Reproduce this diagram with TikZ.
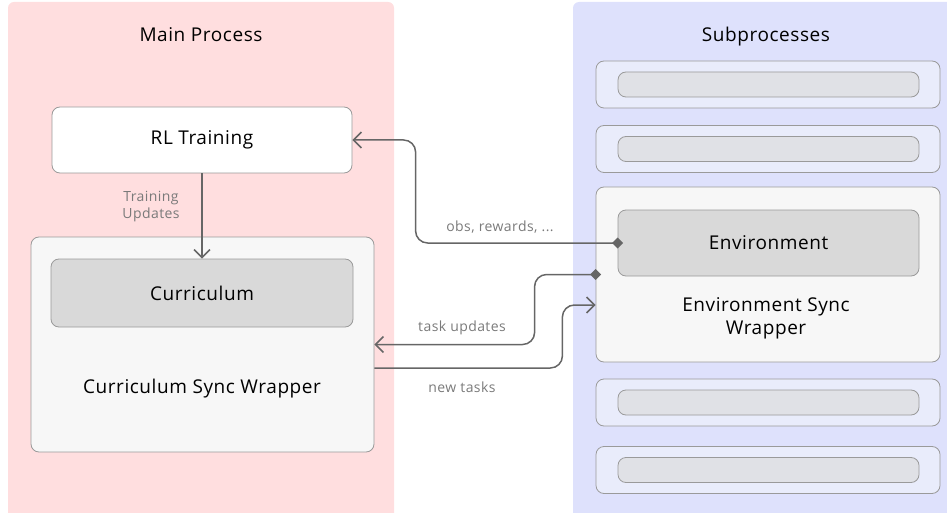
\documentclass[tikz,border=0pt]{standalone}
\usepackage{fontspec}
\setmainfont{Open Sans}[LetterSpace=3]
\usetikzlibrary{arrows.meta,calc}

\definecolor{mainbg}{HTML}{FFDEDF}
\definecolor{subbg}{HTML}{DEE1FC}
\definecolor{slotbg}{HTML}{E9ECFB}
\definecolor{slotin}{HTML}{E0E1E6}
\definecolor{wrapbg}{HTML}{F7F7F7}
\definecolor{corebg}{HTML}{D9D9D9}
\definecolor{edge}{HTML}{9A9A9A}
\definecolor{wire}{HTML}{666666}
\definecolor{note}{HTML}{7A7A7A}

\begin{document}
\begin{tikzpicture}[x=1pt,y=-1pt,
  panel/.style={fill=#1,draw=none,rounded corners=6pt},
  box/.style={draw=edge,line width=0.8pt,rounded corners=8pt,fill=#1,
    minimum width=300pt,font=\fontsize{19}{23}\selectfont},
  slot/.style={draw=edge,line width=0.8pt,rounded corners=8pt,fill=slotbg,
    minimum width=344pt,minimum height=47pt},
  slotbar/.style={draw=edge,line width=0.8pt,rounded corners=8pt,fill=slotin,
    minimum width=301pt,minimum height=25pt},
  title/.style={font=\fontsize{19}{23}\selectfont},
  tag/.style={font=\fontsize{14}{17}\selectfont,text=note},
  wire/.style={draw=wire,line width=1.5pt,rounded corners=12pt,
    -{Straight Barb[length=8pt,width=16pt]}},
  wirefrom/.style={wire,{Diamond[length=11pt,width=11pt]}-{Straight Barb[length=8pt,width=16pt]},
    shorten <=-5.5pt}]
  \useasboundingbox (0,0) rectangle (947,513);

  % the two process areas
  \draw[panel=mainbg] (8,2) rectangle (394,520);
  \draw[panel=subbg] (573,2) rectangle (960,520);
  \node[title,anchor=base] (maintitle) at (201,42) {Main Process};
  \node[title,anchor=base] (subtitle) at (766,42) {Subprocesses};

  % main process
  \node[box=white,minimum height=66pt] (rl) at (202,140) {RL Training};
  \node[box=wrapbg,minimum width=343pt,minimum height=215pt] (cswrap) at (202.5,344.5) {};
  \node[box=corebg,minimum width=302pt,minimum height=68pt] (cur) at (202,293) {Curriculum};
  \node[title] (cswraptext) at (202,389) {Curriculum Sync Wrapper};
  \draw[wire] (rl.south) -- (cur.north);
  \node[tag,align=center] (trainupd) at (151,207) {Training\\Updates};

  % subprocesses
  \foreach \y/\n in {84.5/1,149/2,402.5/4,470/5} {
    \node[slot] (slot\n) at (768,\y) {};
    \node[slotbar] (bar\n) at (768.5,\y) {};
  }
  \node[box=wrapbg,minimum width=344pt,minimum height=175pt] (envwrap) at (768,274.5) {};
  \node[box=corebg,minimum width=301pt,minimum height=66pt] (env) at (768.5,243) {Environment};
  \node[title,align=center] (envwraptext) at (766,318) {Environment Sync\\Wrapper};

  % traffic between them
  \coordinate (ntout) at ($(cswrap.east)+(0,23.5)$);
  \coordinate (ntin) at ($(envwrap.west)+(0,30.5)$);
  \draw[wirefrom] (env.west) -- ++(-202,0) |- (rl.east);
  \draw[wirefrom] (envwrap.west) -- ++(-61,0) |- (cswrap.east);
  \draw[wire] (ntout) -- ++(188,0) |- (ntin);
  \node[tag] (obs) at (500,227) {obs, rewards, ...};
  \node[tag] (taskupd) at (462,328) {task updates};
  \node[tag] (newtasks) at (462,387) {new tasks};
\end{tikzpicture}
\end{document}
